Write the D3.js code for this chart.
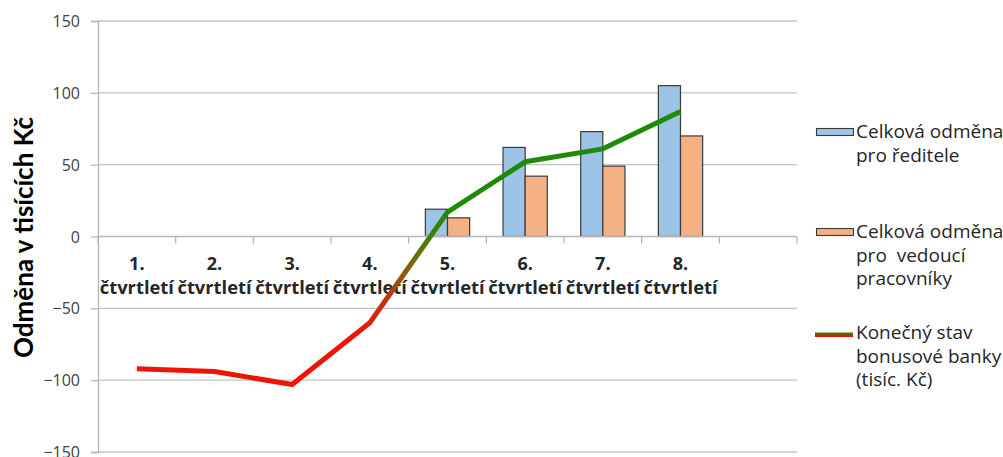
<!DOCTYPE html>
<html>
<head>
<meta charset="utf-8">
<script src="https://cdn.jsdelivr.net/npm/d3@7/dist/d3.min.js"></script>
<style>
  html, body { margin: 0; padding: 0; background: #ffffff; }
  svg { display: block; }
</style>
</head>
<body>
<svg id="chart" width="1003" height="457"></svg>
<script>
// Quarters (the last slot is an empty category)
const categories = ["1.", "2.", "3.", "4.", "5.", "6.", "7.", "8.", ""];
const quarterWord = "čtvrtletí";

// Bonus totals (thousand CZK)
const directorBonus = [0, 0, 0, 0, 19, 62, 73, 105];
const managerBonus  = [0, 0, 0, 0, 13, 42, 49, 70];
// Closing balance of the bonus bank (thousand CZK)
const bankBalance   = [-92, -94, -103, -60, 17, 52, 61, 87];

const yTicks = [-150, -100, -50, 0, 50, 100, 150];

const seriesNames = [
  ["Celková odměna", "pro ředitele"],
  ["Celková odměna", "pro  vedoucí", "pracovníky"],
  ["Konečný stav", "bonusové banky", "(tisíc. Kč)"]
];

const svg = d3.select("#chart");
const font = "'Open Sans', sans-serif";

const plot = { left: 98, right: 797, top: 21, bottom: 452 };

const x = d3.scaleBand()
  .domain(categories.map((c, i) => i))
  .range([plot.left, plot.right])
  .paddingInner(0).paddingOuter(0);

const y = d3.scaleLinear().domain([-150, 150]).range([plot.bottom, plot.top]);

const groupW = x.bandwidth() * 0.57;
const xs = d3.scaleBand().domain([0, 1]).range([0, groupW]);

// Horizontal gridlines
svg.append("g")
  .selectAll("line")
  .data(yTicks.filter(t => t !== 0))
  .join("line")
  .attr("x1", plot.left).attr("x2", plot.right)
  .attr("y1", d => y(d)).attr("y2", d => y(d))
  .attr("stroke", "#c3c3c3").attr("stroke-width", 1.3);

// Y axis
const yAxis = svg.append("g")
  .attr("transform", `translate(${plot.left},0)`)
  .call(d3.axisLeft(y).tickValues(yTicks).tickSize(7).tickPadding(11).tickFormat(d3.format("d")));
yAxis.select(".domain").attr("stroke", "#b5b5b5").attr("stroke-width", 1.3);
yAxis.selectAll(".tick line").attr("stroke", "#b5b5b5").attr("stroke-width", 1.3);
yAxis.selectAll(".tick text")
  .attr("font-family", font).attr("font-size", 16).attr("fill", "#404040")
  .attr("dy", "0.35em");

// Y axis title
svg.append("text")
  .attr("transform", `translate(33,${(plot.top + plot.bottom) / 2 + 1}) rotate(-90)`)
  .attr("text-anchor", "middle")
  .attr("font-family", "Lato, sans-serif").attr("font-weight", "bold").attr("font-size", 26)
  .attr("fill", "#000")
  .text("Odměna v tisících Kč");

// Bars
const barData = [];
directorBonus.forEach((v, i) => barData.push({ i, s: 0, v }));
managerBonus.forEach((v, i) => barData.push({ i, s: 1, v }));
const fills = ["#9dc3e6", "#f4b183"];

svg.append("g")
  .selectAll("rect")
  .data(barData.filter(d => d.v !== 0))
  .join("rect")
  .attr("x", d => x(d.i) + (x.bandwidth() - groupW) / 2 + xs(d.s))
  .attr("width", xs.bandwidth())
  .attr("y", d => y(Math.max(0, d.v)))
  .attr("height", d => Math.abs(y(d.v) - y(0)))
  .attr("fill", d => fills[d.s])
  .attr("stroke", "#3a3a3a").attr("stroke-width", 1.2);

// Category axis at zero
const xAxisG = svg.append("g");
xAxisG.append("line")
  .attr("x1", plot.left).attr("x2", plot.right)
  .attr("y1", y(0)).attr("y2", y(0))
  .attr("stroke", "#b5b5b5").attr("stroke-width", 1.3);
xAxisG.selectAll("line.tk")
  .data(d3.range(categories.length + 1))
  .join("line").attr("class", "tk")
  .attr("x1", i => plot.left + i * x.bandwidth())
  .attr("x2", i => plot.left + i * x.bandwidth())
  .attr("y1", y(0)).attr("y2", y(0) + 7)
  .attr("stroke", "#b5b5b5").attr("stroke-width", 1.3);

const labels = xAxisG.selectAll("g.lbl")
  .data(categories.map((c, i) => ({ c, i })).filter(d => d.c !== ""))
  .join("g").attr("class", "lbl")
  .attr("transform", d => `translate(${x(d.i) + x.bandwidth() / 2},0)`);
labels.append("text")
  .attr("y", 270).attr("text-anchor", "middle")
  .attr("font-family", font).attr("font-weight", "bold").attr("font-size", 18)
  .attr("fill", "#262626")
  .text(d => d.c);
labels.append("text")
  .attr("y", 294).attr("text-anchor", "middle")
  .attr("font-family", font).attr("font-weight", "bold").attr("font-size", 17.5)
  .attr("fill", "#262626")
  .attr("textLength", 74).attr("lengthAdjust", "spacingAndGlyphs")
  .text(quarterWord);

// Gradient for the balance line: red when negative, green when positive
const defs = svg.append("defs");
const grad = defs.append("linearGradient")
  .attr("id", "balanceGrad")
  .attr("gradientUnits", "userSpaceOnUse")
  .attr("x1", 0).attr("x2", 0)
  .attr("y1", y(-68)).attr("y2", y(14));
grad.append("stop").attr("offset", "0%").attr("stop-color", "#ee1508");
grad.append("stop").attr("offset", "30%").attr("stop-color", "#c0350a");
grad.append("stop").attr("offset", "60%").attr("stop-color", "#7a6a0a");
grad.append("stop").attr("offset", "100%").attr("stop-color", "#1f8a08");

const line = d3.line()
  .x((d, i) => x(i) + x.bandwidth() / 2)
  .y(d => y(d));

svg.append("path")
  .datum(bankBalance)
  .attr("d", line)
  .attr("fill", "none")
  .attr("stroke", "url(#balanceGrad)")
  .attr("stroke-width", 5)
  .attr("stroke-linejoin", "round")
  .attr("stroke-linecap", "butt");

// Legend
const legend = svg.append("g");
const legendRows = [
  { top: 138, kind: "rect", fill: fills[0] },
  { top: 238, kind: "rect", fill: fills[1] },
  { top: 339, kind: "line" }
];
const lineH = 23.5;
legendRows.forEach((r, k) => {
  if (r.kind === "rect") {
    legend.append("rect")
      .attr("x", 816.5).attr("y", r.top - 9.5)
      .attr("width", 37).attr("height", 7)
      .attr("fill", r.fill).attr("stroke", "#3a3a3a").attr("stroke-width", 1.1);
  } else {
    legend.append("line")
      .attr("x1", 815).attr("x2", 853).attr("y1", r.top - 4).attr("y2", r.top - 4)
      .attr("stroke", "#e01a0a").attr("stroke-width", 4);
    legend.append("line")
      .attr("x1", 815).attr("x2", 853).attr("y1", r.top - 5.5).attr("y2", r.top - 5.5)
      .attr("stroke", "#1f8a08").attr("stroke-width", 2);
  }
  seriesNames[k].forEach((t, j) => {
    legend.append("text")
      .attr("x", 856).attr("y", r.top + j * lineH)
      .attr("font-family", font).attr("font-size", 19)
      .attr("fill", "#262626")
      .style("white-space", "pre")
      .text(t);
  });
});
</script>
</body>
</html>
